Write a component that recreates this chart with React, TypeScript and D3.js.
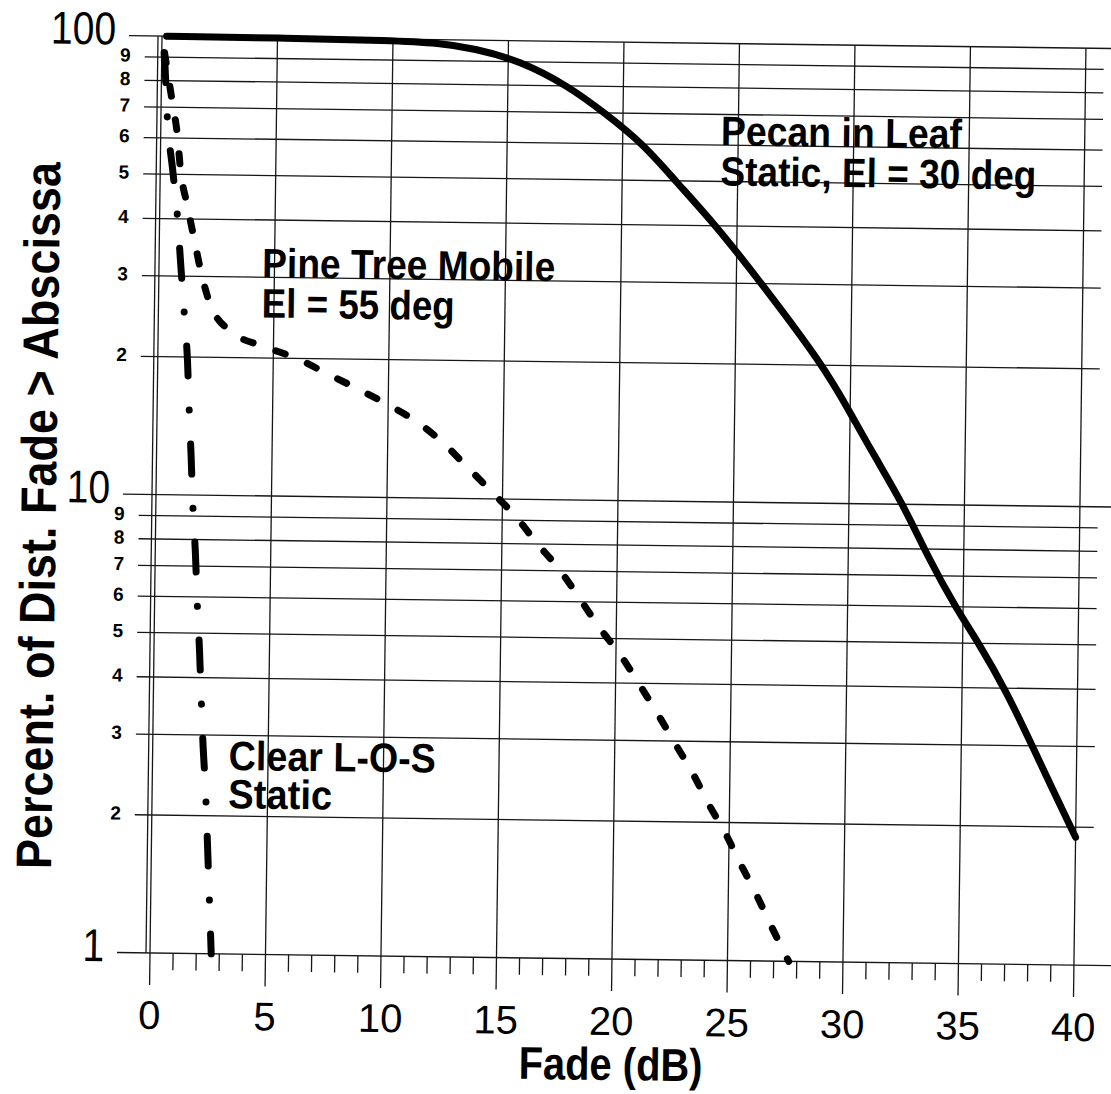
import * as d3 from "d3";
import React from "react";

// Fade (dB) vs percent of distance with fade > abscissa
const pecanInLeaf: [number, number][] = [
  [0.2, 100], [5, 99.8], [10, 99.3], [12, 98.3], [13.5, 96], [15.5, 90.5],
  [17.6, 80], [19.2, 70], [20.9, 60], [22.3, 50], [24.1, 40], [26.1, 30],
  [28.8, 20], [30, 15.8], [31, 12.9], [32.3, 10.1], [33.5, 7.6], [34.7, 5.95],
  [35.7, 5], [36.9, 3.95], [38, 3.05], [39, 2.4], [40, 1.9],
];
const pineTreeMobile: [number, number][] = [
  [0.12, 92], [0.48, 72], [0.72, 61], [0.88, 51], [1.18, 43], [1.49, 36.5],
  [1.8, 31], [2.25, 26], [3.2, 22.7], [4.57, 21.2], [6, 20], [7.4, 18.5],
  [8.7, 17.2], [9.93, 16], [11.3, 14.6], [12.4, 13.2], [13.4, 11.8],
  [14.5, 10.4], [15.6, 9.15], [16.5, 8.05], [17.5, 7.05], [18.4, 6.1],
  [19.3, 5.25], [20.15, 4.64], [21, 4], [21.8, 3.46], [22.6, 2.97],
  [23.4, 2.55], [24.1, 2.19], [24.85, 1.89], [25.5, 1.63], [26.2, 1.4],
  [26.85, 1.2], [27.65, 1.0],
];
const clearLOS: [number, number][] = [
  [0.1, 92], [0.15, 85.5], [0.28, 66], [0.53, 51.5], [0.77, 40.5],
  [0.94, 31.8], [1.12, 24.9], [1.29, 19.5], [1.39, 15.3], [1.5, 12.1],
  [1.6, 9.5], [1.74, 7.45], [1.84, 5.9], [1.97, 4.6], [2.07, 3.63],
  [2.17, 2.9], [2.32, 2.23], [2.42, 1.76], [2.52, 1.38], [2.65, 1.0],
];

const xMajorTicks = [0, 5, 10, 15, 20, 25, 30, 35, 40];
const xMinorTicks = d3.range(1, 40).filter((v) => v % 5 !== 0);
const yMajorTicks = [1, 10, 100];
const yMinorTicks = [2, 3, 4, 5, 6, 7, 8, 9, 20, 30, 40, 50, 60, 70, 80, 90];
const yMinorLabels = ["2", "3", "4", "5", "6", "7", "8", "9", "2", "3", "4", "5", "6", "7", "8", "9"];

const W = 1111;
const H = 1094;
const font = "'Liberation Sans', Arial, Helvetica, sans-serif";

export default function App() {
  const x = d3.scaleLinear().domain([0, 40]).range([150, 1074]);
  const y = d3.scaleLog().domain([1, 100]).range([953, 36]);
  const smooth = d3
    .line<[number, number]>()
    .x((d) => x(d[0]))
    .y((d) => y(d[1]))
    .curve(d3.curveBasis);
  const line = d3
    .line<[number, number]>()
    .x((d) => x(d[0]))
    .y((d) => y(d[1]))
    .curve(d3.curveMonotoneX);

  const x0 = x(0);
  const x40 = x(40);
  const yBot = y(1);
  const yTop = y(100);
  const grid = "#161616";

  return (
    <svg
      width={W}
      height={H}
      style={{ position: "absolute", left: 0, top: 0, background: "#fff" }}
      fontFamily={font}
    >
      <rect width={W} height={H} fill="#fff" />
      {/* the scan is tilted a little */}
      <g transform={`rotate(0.75, ${x0}, ${yBot})`}>
        {/* horizontal grid */}
        {yMinorTicks.map((v) => (
          <line key={"hm" + v} x1={x0 - 17} x2={x40 + 18} y1={y(v)} y2={y(v)} stroke={grid} strokeWidth={1.3} />
        ))}
        {yMajorTicks.map((v) => (
          <line key={"hM" + v} x1={x0 - 33} x2={W + 20} y1={y(v)} y2={y(v)} stroke={grid} strokeWidth={1.4} />
        ))}
        {/* vertical grid and ticks */}
        {xMajorTicks.map((v) => (
          <line key={"vM" + v} x1={x(v)} x2={x(v)} y1={yTop} y2={yBot + 32} stroke={grid} strokeWidth={1.3} />
        ))}
        <line x1={x0 - 4} x2={x0 - 4} y1={yTop} y2={yBot} stroke={grid} strokeWidth={1.3} />
        {xMinorTicks.map((v) => (
          <line key={"vm" + v} x1={x(v)} x2={x(v)} y1={yBot} y2={yBot + 17} stroke={grid} strokeWidth={1.3} />
        ))}

        {/* y labels */}
        {yMajorTicks.map((v) => {
          const s = String(v);
          return (
            <text
              key={"ly" + v}
              x={x0 - 46}
              y={y(v) + 9}
              textAnchor="end"
              fontSize={46}
              textLength={s.length * 0.556 * 46 * 0.85}
              lengthAdjust="spacingAndGlyphs"
            >
              {s}
            </text>
          );
        })}
        {yMinorTicks.map((v, i) => (
          <text
            key={"lym" + v}
            x={x0 - 31}
            y={y(v) + 5}
            textAnchor="end"
            fontSize={19}
            fontWeight="bold"
          >
            {yMinorLabels[i]}
          </text>
        ))}

        {/* x labels */}
        {xMajorTicks.map((v) => (
          <text key={"lx" + v} x={x(v)} y={yBot + 76} textAnchor="middle" fontSize={40}>
            {v}
          </text>
        ))}

        {/* axis titles */}
        <text
          x={x(20)}
          y={1074}
          textAnchor="middle"
          fontSize={46}
          fontWeight="bold"
          textLength={184}
          lengthAdjust="spacingAndGlyphs"
        >
          Fade (dB)
        </text>
        <text
          transform="translate(50,517) rotate(-90)"
          textAnchor="middle"
          fontSize={50}
          fontWeight="bold"
          textLength={707}
          lengthAdjust="spacingAndGlyphs"
        >
          Percent. of Dist. Fade &gt; Abscissa
        </text>

        {/* curves */}
        <path
          d={smooth(pecanInLeaf) ?? ""}
          fill="none"
          stroke="#000"
          strokeWidth={7}
          strokeLinejoin="round"
          strokeLinecap="round"
        />
        <path
          d={line(pineTreeMobile) ?? ""}
          fill="none"
          stroke="#000"
          strokeWidth={7}
          strokeLinecap="round"
          strokeDasharray="10 24"
        />
        <path
          d={line(clearLOS) ?? ""}
          fill="none"
          stroke="#000"
          strokeWidth={7}
          strokeLinecap="round"
          strokeDasharray="30 34 0.1 34"
        />

        {/* annotations */}
        <g fontSize={41} fontWeight="bold">
          <text x={x(24.25)} y={y(60)} textLength={241} lengthAdjust="spacingAndGlyphs">
            Pecan in Leaf
          </text>
          <text x={x(24.25)} y={y(50) + 4} textLength={316} lengthAdjust="spacingAndGlyphs">
            Static, El = 30 deg
          </text>
          <text x={x(4.47)} y={y(30)} textLength={293} lengthAdjust="spacingAndGlyphs">
            Pine Tree Mobile
          </text>
          <text x={x(4.47)} y={y(24.5)} textLength={193} lengthAdjust="spacingAndGlyphs">
            El = 55 deg
          </text>
          <text x={x(3.3)} y={y(2.52)} textLength={207} lengthAdjust="spacingAndGlyphs">
            Clear L-O-S
          </text>
          <text x={x(3.3)} y={y(2.08)} textLength={104} lengthAdjust="spacingAndGlyphs">
            Static
          </text>
        </g>
      </g>
    </svg>
  );
}
